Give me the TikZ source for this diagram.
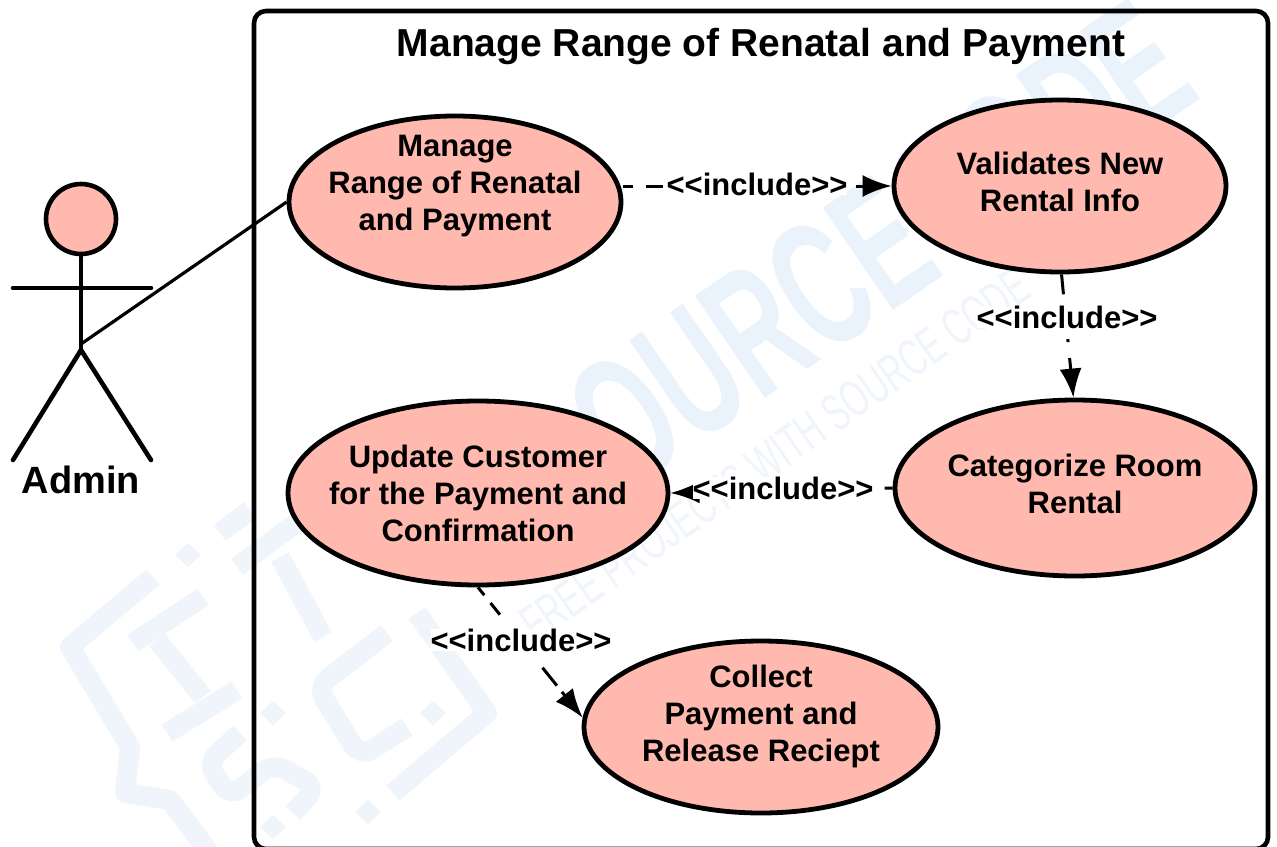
\documentclass[tikz,border=0pt]{standalone}
\usepackage{fontspec}
\setmainfont{Liberation Sans}
\usetikzlibrary{arrows.meta,shapes.geometric}
\definecolor{ucfill}{HTML}{FFB9AE}
\definecolor{wm}{HTML}{EAF3FB}
\definecolor{wmpale}{HTML}{EFF5FB}
\tikzset{
 x=1pt,y=-1pt,
 usecase/.style={draw=black,line width=4.8pt,fill=ucfill,ellipse,inner sep=0pt},
 uctext/.style={align=center,inner sep=0pt,font=\fontsize{31}{37}\selectfont\bfseries},
 lab/.style={font=\fontsize{31}{34}\selectfont\bfseries,inner sep=0pt,fill=white},
 dep/.style={line width=3pt,dash pattern=on 17pt off 13pt,-{Latex[length=29pt,width=22pt]}},
 stick/.style={line width=4.6pt,line cap=round},
 wmtext/.style={text=wm,font=\fontsize{180}{180}\selectfont\bfseries,rotate=34.5,inner sep=0pt},
 wmsmall/.style={text=wmpale,font=\fontsize{52}{52}\selectfont,rotate=35,inner sep=0pt},
 wmlogo/.style={draw=wmpale,line width=20pt,line join=round}
}
\begin{document}
\begin{tikzpicture}
\useasboundingbox (0,0) rectangle (1277,846);
\fill[white] (0,0) rectangle (1277,846);
\clip (0,0) rectangle (1277,846);
% watermark
\node[wmtext] (wmA) at (850,265) {\scalebox{0.6}[1]{SOURCECODE}};
\node[wmsmall] (wmB) at (775,455) {\scalebox{0.62}[1]{FREE PROJECTS WITH SOURCE CODE}};
\draw[wmlogo] (153,577) -- (70,647) -- (130,747) -- (125,793) -- (170,800) -- (230,880);
\draw[wmlogo] (220,533) -- (250,510);
\draw[wmlogo] (417,613) -- (487,713) -- (393,793);
\draw[wmlogo] (133,643) -- (203,597);
\draw[wmlogo] (157,640) -- (203,697);
\draw[wmlogo] (167,733) -- (237,690);
\draw[wmlogo] (237,567) -- (300,520);
\draw[wmlogo] (280,557) -- (323,637);
\draw[wmlogo,rounded corners=14pt] (387,633) -- (317,687) -- (360,757) -- (407,727);
\draw[wmlogo,rounded corners=14pt] (240,733) -- (207,763) -- (230,797) -- (273,763) -- (317,787) -- (293,813);
\fill[wmpale] (188,543) -- (201,555) -- (188,567) -- (175,555) -- cycle;
\fill[wmpale] (433,701) -- (446,713) -- (433,725) -- (420,713) -- cycle;
\fill[wmpale] (273,701) -- (286,713) -- (273,725) -- (260,713) -- cycle;
\fill[wmpale] (368,800) -- (381,812) -- (368,824) -- (355,812) -- cycle;
\fill[wmpale] (273,815) -- (286,827) -- (273,839) -- (260,827) -- cycle;
% boundary
\draw[black,line width=4.6pt,rounded corners=12pt] (254,11) rectangle (1268,849);
\node[inner sep=0pt,font=\fontsize{39}{42}\selectfont\bfseries] (title) at (761,47) {Manage Range of Renatal and Payment};
% actor
\node[draw=black,line width=4.6pt,fill=ucfill,circle,minimum size=70pt,inner sep=0pt] (head) at (81,219) {};
\coordinate (hip) at (81,350);
\coordinate (attach) at (81,344);
\coordinate (armL) at (13,288);
\coordinate (armR) at (151,288);
\coordinate (legL) at (13,460);
\coordinate (legR) at (151,460);
\draw[stick] (head.south) -- (hip);
\draw[stick] (armL) -- (armR);
\draw[stick] (hip) -- (legL);
\draw[stick] (hip) -- (legR);
\node[inner sep=0pt,font=\fontsize{38}{40}\selectfont\bfseries] (admin) at (81,480) {Admin};
% use cases
\node[usecase,minimum width=332pt,minimum height=172pt] (a) at (455,202) {};
\node[usecase,minimum width=332pt,minimum height=172pt] (b) at (1060,186) {};
\node[usecase,minimum width=360pt,minimum height=176pt] (c) at (1075,488) {};
\node[usecase,minimum width=380pt,minimum height=184pt] (d) at (478,493) {};
\node[usecase,minimum width=354pt,minimum height=172pt] (e) at (761,727) {};
\node[uctext] (at) at (455,186) {Manage\\Range of Renatal\\and Payment};
\node[uctext] (bt) at (1060,182) {Validates New\\Rental Info};
\node[uctext] (ct) at (1075,484) {Categorize Room\\Rental};
\node[uctext] (dt) at (478,493) {Update Customer\\for the Payment and\\Confirmation};
\node[uctext] (et) at (761,716) {Collect\\Payment and\\Release Reciept};
% connectors
\draw[line width=3.2pt] (attach) -- (a.west);
\draw[dep,dash phase=7pt] (a.east |- b.west) -- (b.west);
\node[lab] (l1) at (757,184) {<{}<include>{}>};
\draw[dep,dash pattern=on 20pt off 45pt on 3pt off 16pt on 40pt] (b.-89) -- (c.91);
\node[lab] (l2) at (1067,317) {<{}<include>{}>};
\draw[dep,dash phase=9pt] (c.west) -- (d.east);
\node[lab] (l3) at (783,488) {<{}<include>{}>};
\draw[dep,dash pattern=on 10pt off 10pt on 15pt off 68pt on 23pt off 8pt on 40pt] (d.south) -- (e.177);
\node[lab] (l4) at (521,640) {<{}<include>{}>};
\end{tikzpicture}
\end{document}
